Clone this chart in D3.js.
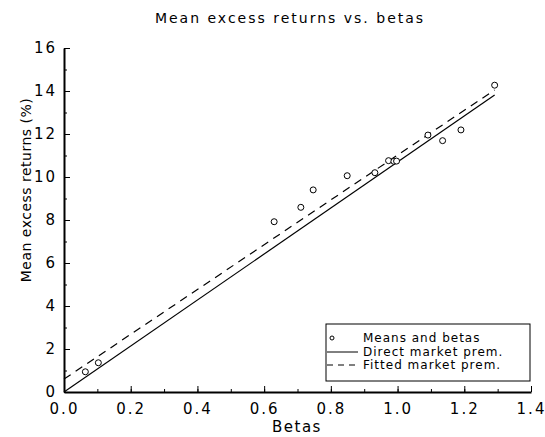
<!DOCTYPE html>
<html>
<head>
<meta charset="utf-8">
<script src="https://cdn.jsdelivr.net/npm/d3@7"></script>
<style>
  body { margin: 0; background: #fff; }
  svg { display: block; font-family: "DejaVu Sans", sans-serif; }
</style>
</head>
<body>
<svg id="chart"></svg>
<script>
// means and betas
const betas = [0.064, 0.103, 0.63, 0.71, 0.747, 0.849, 0.932, 0.973, 0.989, 0.997, 1.091, 1.135, 1.19, 1.291];
const meanReturns = [0.94, 1.36, 7.92, 8.59, 9.4, 10.06, 10.2, 10.76, 10.73, 10.74, 11.95, 11.69, 12.19, 14.27];

// the two lines, as end points
const lineBetas = [0, 1.291];
const directPrem = [0, 13.81];
const fittedPrem = [0.6, 14.05];

const xTicks = [0, 0.2, 0.4, 0.6, 0.8, 1.0, 1.2, 1.4];
const yTicks = [0, 2, 4, 6, 8, 10, 12, 14, 16];
const legendLabels = ["Means and betas", "Direct market prem.", "Fitted market prem."];

const width = 545;
const height = 437;
const margin = { top: 48, right: 14, bottom: 45, left: 64 };

const svg = d3.select("#chart").attr("width", width).attr("height", height);

const xscale = d3.scaleLinear().domain([0, 1.4]).range([margin.left, width - margin.right]);
const yscale = d3.scaleLinear().domain([0, 16]).range([height - margin.bottom, margin.top]);

// minor ticks first, then the major axis on top
const xMinor = d3.range(0, 1.41, 0.1);
const yMinor = d3.range(0, 16.1, 1);

svg.append("g")
  .attr("transform", `translate(0, ${yscale(0)})`)
  .call(d3.axisBottom(xscale).tickValues(xMinor).tickSize(-3).tickSizeOuter(0).tickFormat(""))
  .call((g) => g.select(".domain").remove());
svg.append("g")
  .attr("transform", `translate(${xscale(0)}, 0)`)
  .call(d3.axisLeft(yscale).tickValues(yMinor).tickSize(-3).tickSizeOuter(0).tickFormat(""))
  .call((g) => g.select(".domain").remove());

const xaxisGroup = svg.append("g")
  .attr("transform", `translate(0, ${yscale(0)})`)
  .call(d3.axisBottom(xscale).tickValues(xTicks).tickSize(-6).tickSizeOuter(0).tickPadding(11).tickFormat(d3.format(".1f")));
const yaxisGroup = svg.append("g")
  .attr("transform", `translate(${xscale(0)}, 0)`)
  .call(d3.axisLeft(yscale).tickValues(yTicks).tickSize(-6).tickSizeOuter(0).tickPadding(7));

[xaxisGroup, yaxisGroup].forEach((g) => {
  g.select(".domain").attr("stroke-width", 2);
  g.selectAll("text")
    .attr("font-family", "DejaVu Sans, sans-serif")
    .style("font-size", "15px")
    .style("letter-spacing", "2px")
    .attr("fill", "#000");
});

// lines
const line = d3.line().x((d) => xscale(d[0])).y((d) => yscale(d[1]));
svg.append("path")
  .attr("d", line(lineBetas.map((b, i) => [b, directPrem[i]])))
  .attr("stroke", "black")
  .attr("stroke-width", 1.2)
  .attr("fill", "none");
svg.append("path")
  .attr("d", line(lineBetas.map((b, i) => [b, fittedPrem[i]])))
  .attr("stroke", "black")
  .attr("stroke-width", 1.2)
  .attr("stroke-dasharray", "8,6")
  .attr("fill", "none");

// points
svg.append("g")
  .selectAll("circle")
  .data(betas.map((b, i) => [b, meanReturns[i]]))
  .join("circle")
  .attr("cx", (d) => xscale(d[0]))
  .attr("cy", (d) => yscale(d[1]))
  .attr("r", 3)
  .attr("fill", "white")
  .attr("stroke", "black")
  .attr("stroke-width", 1);

// title and labels
svg.append("text")
  .attr("x", 290)
  .attr("y", 23)
  .attr("text-anchor", "middle")
  .style("font-size", "14px")
  .style("letter-spacing", "2px")
  .text("Mean excess returns vs. betas");

svg.append("text")
  .attr("x", 297)
  .attr("y", 432)
  .attr("text-anchor", "middle")
  .style("font-size", "15px")
  .style("letter-spacing", "1.5px")
  .text("Betas");

svg.append("text")
  .attr("transform", "rotate(-90)")
  .attr("x", -190)
  .attr("y", 31)
  .attr("text-anchor", "middle")
  .style("font-size", "14px")
  .style("letter-spacing", "0.5px")
  .text("Mean excess returns (%)");

// legend
const legend = svg.append("g");
legend.append("rect")
  .attr("x", 326)
  .attr("y", 324)
  .attr("width", 204)
  .attr("height", 57)
  .attr("fill", "white")
  .attr("stroke", "black")
  .attr("stroke-width", 1);

const rowY = [338, 352, 365];
legend.append("circle")
  .attr("cx", 332)
  .attr("cy", rowY[0])
  .attr("r", 2)
  .attr("fill", "none")
  .attr("stroke", "black");
legend.append("line")
  .attr("x1", 327).attr("x2", 358)
  .attr("y1", rowY[1]).attr("y2", rowY[1])
  .attr("stroke", "black");
legend.append("line")
  .attr("x1", 327).attr("x2", 358)
  .attr("y1", rowY[2]).attr("y2", rowY[2])
  .attr("stroke", "black")
  .attr("stroke-dasharray", "6,5");

legend.selectAll("text.lbl")
  .data(legendLabels)
  .join("text")
  .attr("class", "lbl")
  .attr("x", 363)
  .attr("y", (d, i) => rowY[i])
  .attr("dy", "0.35em")
  .style("font-size", "12px")
  .style("letter-spacing", "1px")
  .text((d) => d);
</script>
</body>
</html>
